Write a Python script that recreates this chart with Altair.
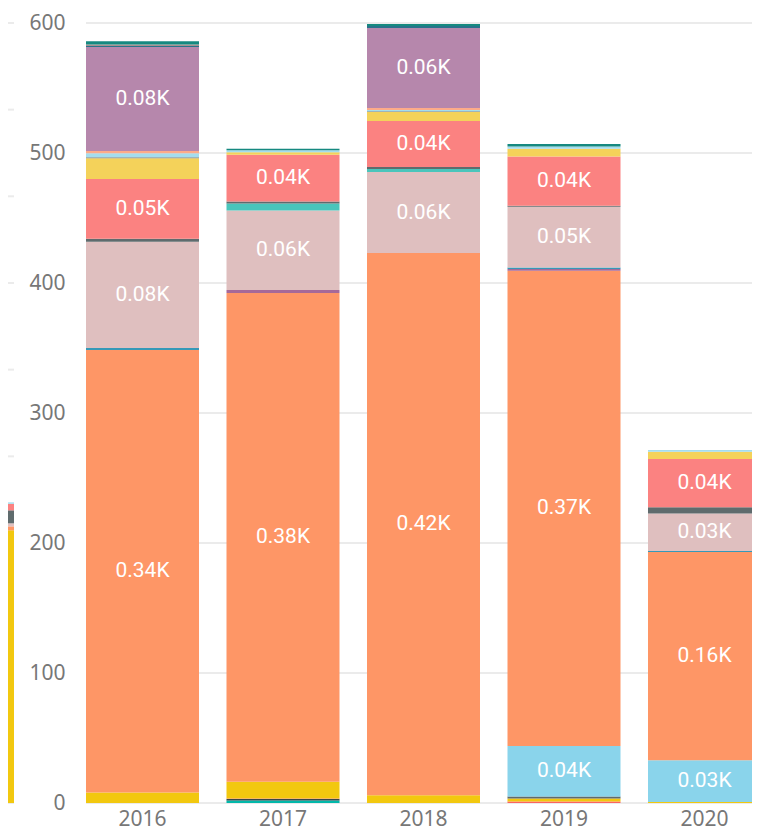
import altair as alt
import pandas as pd

years = ["2016", "2017", "2018", "2019", "2020"]

series_names = [f"S{i:02d}" for i in range(1, 22)]
series_colors = ["#01B8AA", "#374649", "#FD625E", "#F2C80F", "#5F6B6D", "#8AD4EB",
                 "#FE9666", "#A66999", "#3599B8", "#DFBFBF", "#4AC5BB", "#5F6B6D",
                 "#FB8281", "#F4D25A", "#7F898A", "#A4DDEE", "#FDAB89", "#B687AC",
                 "#28738A", "#A78F8F", "#168980"]

# values per year, in series (stack) order, bottom to top
values_2016 = [0, 0, 0, 8, 0, 0, 340.5, 0, 1.5, 81.7, 0, 2.3, 46, 16, 0.8, 3, 1.8, 80, 0.8, 1, 2.6]
values_2017 = [2, 1, 0.5, 12.9, 0, 0, 376, 2.3, 0, 61, 5.4, 1.5, 36, 2, 0, 1.5, 0, 0, 0, 0, 1.2]
values_2018 = [0, 0, 0, 6, 0, 0, 417, 0, 0, 62.4, 2.3, 1.5, 35.4, 7, 0.5, 1, 1.5, 61.6, 1.5, 0, 1.5]
values_2019 = [0, 0, 1.2, 2.3, 1.5, 38.8, 365.7, 1.2, 1.2, 46.8, 0, 0.8, 37.8, 5.9, 0, 1.8, 0, 0, 0, 0, 2]
values_2020 = [0, 0, 0, 0.7, 0, 32.1, 160.2, 0, 0.8, 28.8, 0, 4.9, 37.2, 5.4, 0, 1.5, 0, 0, 0, 0, 0]

y_ticks = [0, 100, 200, 300, 400, 500, 600]

# neighbouring (cropped) panel on the far left
frag_year = ["2015"]
frag_values = [0, 0, 0, 314.6, 0, 0, 4.6, 0, 0, 3.5, 0, 15, 7.5, 0, 0, 1.7, 0, 0, 0, 0, 0]
frag_ticks = [0, 100, 200, 300, 400, 500, 600, 700, 800, 900]

rows = []
for yr, vals in zip(years, [values_2016, values_2017, values_2018, values_2019, values_2020]):
    for i, (s, v) in enumerate(zip(series_names, vals)):
        if v > 0:
            rows.append({"year": yr, "series": s, "idx": i, "v": v})
df = pd.DataFrame(rows)

frag_rows = [{"year": frag_year[0], "series": s, "idx": i, "v": v}
             for i, (s, v) in enumerate(zip(series_names, frag_values)) if v > 0]
df_frag = pd.DataFrame(frag_rows)

df_grid = pd.DataFrame({"t": y_ticks})
df_fgrid = pd.DataFrame({"t": frag_ticks})

GRID = "#EBEBEB"
LABEL = "#777777"
W = 744

color = alt.Color("series:N", scale=alt.Scale(domain=series_names, range=series_colors), legend=None)

y_scale = alt.Scale(domain=[0, 600], nice=False)
y_axis = alt.Axis(values=y_ticks, grid=False, domain=False, ticks=False, labelFont="Noto Sans",
                  labelFontSize=21, labelColor=LABEL, labelPadding=0, offset=-57, title=None)
x_scale = alt.Scale(domain=years, range=[78, 753], paddingInner=0.1957, paddingOuter=0)
x_axis = alt.Axis(domain=False, ticks=False, grid=False, labelFont="Noto Sans", labelFontSize=21,
                  labelColor=LABEL, labelPadding=5, labelAngle=0, title=None)

grid = alt.Chart(df_grid).mark_rule(color=GRID, strokeWidth=2).encode(
    y=alt.Y("t:Q", scale=y_scale, axis=y_axis),
    x=alt.value(78), x2=alt.value(W),
)

bars = alt.Chart(df).mark_bar().encode(
    x=alt.X("year:N", scale=x_scale, axis=x_axis),
    y=alt.Y("v:Q", stack="zero", scale=y_scale, axis=y_axis),
    color=color,
    order=alt.Order("idx:Q", sort="ascending"),
)

labels = alt.Chart(df).transform_window(
    cum="sum(v)", groupby=["year"], sort=[alt.SortField("idx")], frame=[None, 0]
).transform_calculate(
    mid="datum.cum - datum.v / 2",
    label="format(datum.v / 1000, '.2f') + 'K'",
).transform_filter("datum.v >= 25").mark_text(
    color="white", font="Roboto", fontSize=21, baseline="middle", align="center"
).encode(
    x=alt.X("year:N", scale=x_scale, axis=x_axis),
    y=alt.Y("mid:Q", scale=y_scale, axis=y_axis),
    text="label:N",
)

main = alt.layer(grid, bars, labels)

f_scale = alt.Scale(domain=[0, 900], nice=False)
fgrid = alt.Chart(df_fgrid).mark_rule(color=GRID, strokeWidth=2).encode(
    y=alt.Y("t:Q", scale=f_scale, axis=None),
    x=alt.value(0), x2=alt.value(6),
)
fbars = alt.Chart(df_frag).mark_bar().encode(
    x=alt.X("year:N", scale=alt.Scale(domain=frag_year, range=[0, 6], paddingInner=0, paddingOuter=0), axis=None),
    y=alt.Y("v:Q", stack="zero", scale=f_scale, axis=None),
    color=color,
    order=alt.Order("idx:Q", sort="ascending"),
)
frag = alt.layer(fgrid, fbars)

chart = alt.layer(frag, main).resolve_scale(
    x="independent", y="independent", color="shared"
).properties(
    width=W, height=780,
    autosize=alt.AutoSizeParams(type="none"),
    padding={"left": 0, "top": 15, "right": 0, "bottom": 27},
).configure_view(strokeWidth=0)

chart.save("out.html", embed_options={"renderer": "svg", "actions": False})
